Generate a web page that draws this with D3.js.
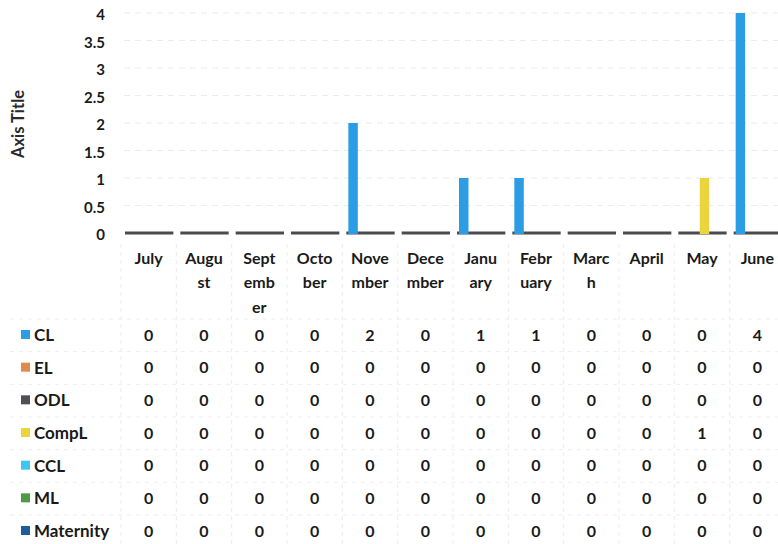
<!DOCTYPE html>
<html>
<head>
<meta charset="utf-8">
<script src="https://cdn.jsdelivr.net/npm/d3@7"></script>
<style>
  body { margin: 0; background: #fff; }
  text { font-family: Lato, "Open Sans", sans-serif; font-weight: 700; fill: #1a1a1a; }
</style>
</head>
<body>
<div id="container"></div>
<script>
const width = 778, height = 544;

// data
const months = ['July', 'August', 'September', 'October', 'November', 'December',
    'January', 'February', 'March', 'April', 'May', 'June'];
const monthLines = [['July'], ['Augu', 'st'], ['Sept', 'emb', 'er'], ['Octo', 'ber'], ['Nove', 'mber'],
    ['Dece', 'mber'], ['Janu', 'ary'], ['Febr', 'uary'], ['Marc', 'h'], ['April'], ['May'], ['June']];
const seriesNames = ['CL', 'EL', 'ODL', 'CompL', 'CCL', 'ML', 'Maternity'];
const seriesColors = ['#2b9de4', '#e0894f', '#4e4f57', '#ecd43c', '#3fc6ee', '#4f9a43', '#1f5c9c'];
const CL        = [0, 0, 0, 0, 2, 0, 1, 1, 0, 0, 0, 4];
const EL        = [0, 0, 0, 0, 0, 0, 0, 0, 0, 0, 0, 0];
const ODL       = [0, 0, 0, 0, 0, 0, 0, 0, 0, 0, 0, 0];
const CompL     = [0, 0, 0, 0, 0, 0, 0, 0, 0, 0, 1, 0];
const CCL       = [0, 0, 0, 0, 0, 0, 0, 0, 0, 0, 0, 0];
const ML        = [0, 0, 0, 0, 0, 0, 0, 0, 0, 0, 0, 0];
const Maternity = [0, 0, 0, 0, 0, 0, 0, 0, 0, 0, 0, 0];
const yTicks = [0, 0.5, 1, 1.5, 2, 2.5, 3, 3.5, 4];

const values = [CL, EL, ODL, CompL, CCL, ML, Maternity];

const svg = d3.select('#container').append('svg')
    .attr('width', width)
    .attr('height', height);

const x0 = d3.scaleBand(months, [121, 785]);
const bw = x0.bandwidth();
const x1 = d3.scaleBand(seriesNames, [6, bw - 4]);
const y = d3.scaleLinear([0, 4], [233, 13]);

// gridlines
svg.append('g')
    .selectAll('line')
    .data(yTicks.slice(1))
    .join('line')
        .attr('x1', 124).attr('x2', width)
        .attr('y1', d => y(d)).attr('y2', d => y(d))
        .attr('stroke', '#ebebeb')
        .attr('stroke-dasharray', '6,5');

// y tick labels
svg.append('g')
    .selectAll('text')
    .data(yTicks)
    .join('text')
        .attr('x', 105)
        .attr('y', d => y(d) + 2)
        .attr('dy', '0.35em')
        .attr('text-anchor', 'end')
        .style('font-size', '15px')
        .text(d => d);

svg.append('text')
    .attr('transform', `translate(18, 124) rotate(-90)`)
    .attr('text-anchor', 'middle')
    .attr('dy', '0.35em')
    .style('font-size', '16.5px')
    .style('fill', '#2a2a2a')
    .text('Axis Title');

// baseline segments per month
svg.append('g')
    .selectAll('line')
    .data(months)
    .join('line')
        .attr('x1', d => x0(d) + 4)
        .attr('x2', d => x0(d) + bw - 3)
        .attr('y1', y(0)).attr('y2', y(0))
        .attr('stroke', '#4a4a50')
        .attr('stroke-width', 3);

// bars
const bars = [];
seriesNames.forEach((s, si) => {
    months.forEach((m, mi) => {
        if (values[si][mi] > 0) bars.push({ s, m, v: values[si][mi], c: seriesColors[si] });
    });
});
svg.append('g')
    .selectAll('rect')
    .data(bars)
    .join('rect')
        .attr('x', d => x0(d.m) + x1(d.s))
        .attr('width', x1.bandwidth() + 3)
        .attr('y', d => y(d.v))
        .attr('height', d => y(0) - y(d.v) + 1)
        .attr('fill', d => d.c);

// data table
const rowY = d3.scalePoint(seriesNames, [335, 531]);
const table = svg.append('g');

// table grid
table.selectAll('line.v')
    .data(months)
    .join('line')
        .attr('class', 'v')
        .attr('x1', d => x0(d)).attr('x2', d => x0(d))
        .attr('y1', 244).attr('y2', height)
        .attr('stroke', '#ececec')
        .attr('stroke-dasharray', '4,4');
table.selectAll('line.h')
    .data(seriesNames)
    .join('line')
        .attr('class', 'h')
        .attr('x1', 10).attr('x2', width)
        .attr('y1', d => rowY(d) - 16).attr('y2', d => rowY(d) - 16)
        .attr('stroke', '#eeeeee')
        .attr('stroke-dasharray', '4,5');

// header
table.selectAll('g.head')
    .data(months)
    .join('g')
        .attr('class', 'head')
        .each(function(d, i) {
            d3.select(this).selectAll('text')
                .data(monthLines[i])
                .join('text')
                    .attr('x', x0(d) + bw / 2)
                    .attr('y', (t, j) => 258 + j * 24.5)
                    .attr('dy', '0.35em')
                    .attr('text-anchor', 'middle')
                    .style('font-size', '16px')
                    .text(t => t);
        });

// row labels and keys
const rows = table.selectAll('g.row')
    .data(seriesNames)
    .join('g')
        .attr('class', 'row')
        .attr('transform', d => `translate(0, ${rowY(d)})`);
rows.append('rect')
    .attr('x', 21).attr('y', -5)
    .attr('width', 9).attr('height', 9)
    .attr('fill', (d, i) => seriesColors[i]);
rows.append('text')
    .attr('x', 34)
    .attr('dy', '0.35em')
    .style('font-size', '17px')
    .text(d => d);
rows.each(function(d, i) {
    d3.select(this).selectAll('text.val')
        .data(values[i])
        .join('text')
            .attr('class', 'val')
            .attr('x', (v, j) => x0(months[j]) + bw / 2)
            .attr('dy', '0.35em')
            .attr('text-anchor', 'middle')
            .style('font-size', '16px')
            .text(v => v);
});
</script>
</body>
</html>
